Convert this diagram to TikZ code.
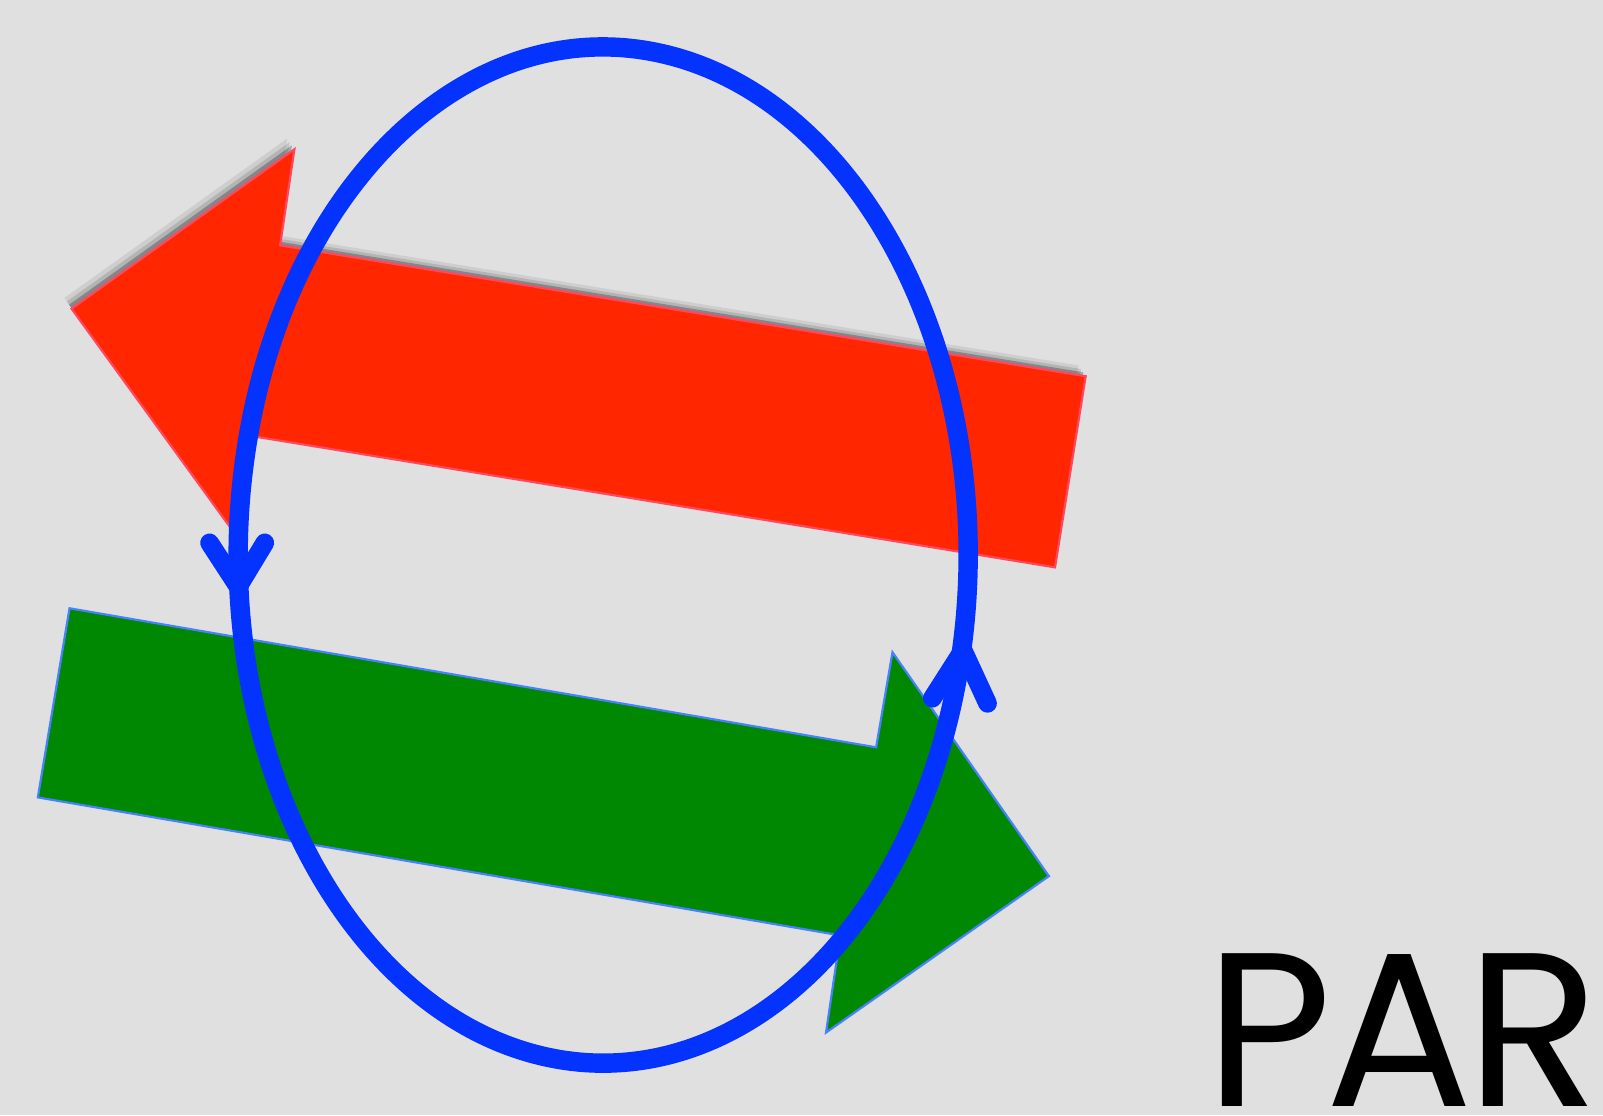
\documentclass[tikz,border=0pt]{standalone}
\usepackage{fontspec}
\setmainfont{Poppins}
\newfontfamily\parfont{Poppins}[LetterSpace=-3]
\usepackage{xcolor}
\usepackage{tikz}
\usetikzlibrary{shadows, calc}
\definecolor{bggray}{RGB}{224, 224, 224}
\definecolor{arrowred}{RGB}{255, 38, 0}
\definecolor{edgered}{RGB}{255, 72, 96}
\definecolor{arrowgreen}{RGB}{0, 136, 2}
\definecolor{edgeblue}{RGB}{70, 130, 255}
\definecolor{loopblue}{RGB}{4, 51, 255}

\begin{document}
\begin{tikzpicture}[
    x=0.01cm, y=-0.01cm,
    redarrow/.style={fill=arrowred, draw=edgered, line width=0.6pt,
        preaction={fill=black, opacity=0.08, transform canvas={shift={(-2pt,3pt)}}},
        preaction={fill=black, opacity=0.12, transform canvas={shift={(-1.3pt,2pt)}}},
        drop shadow={shadow xshift=-0.7pt, shadow yshift=1.1pt, fill=black, opacity=0.25}},
    greenarrow/.style={fill=arrowgreen, draw=edgeblue, line width=0.6pt},
    loopline/.style={draw=loopblue, line width=5.4pt, line cap=round, line join=round},
    chevron/.style={draw=loopblue, line width=5.2pt, line cap=round, line join=round},
    partext/.style={anchor=base west, inner sep=0pt, font=\parfont\fontsize{61}{61}\selectfont}
]
% Background
\fill[bggray] (0,0) rectangle (1568,1091);
\useasboundingbox (0,0) rectangle (1568,1091);

% Arrows
\path[redarrow] (70,302) -- (288,146) -- (274,240) -- (1062,368) -- (1032,555) -- (249,427) -- (226,517) -- cycle;
\path[greenarrow] (68,595) -- (857,731) -- (873,638) -- (1026,857) -- (808,1010) -- (822,915) -- (37,780) -- cycle;

% Loop
\coordinate (loopc) at (590,543);
\draw[loopline] ($(loopc)+(352.6,77.7)$) arc[start angle=9, end angle=-352, x radius=357, y radius=497];

% Arrowheads
\coordinate (ltip) at (233,574);
\coordinate (rtip) at (942,636);
\draw[chevron] (205,531) -- (ltip) -- (259,531);
\draw[chevron] (912,683) -- (rtip) -- (966,688);

% Label
\node[partext] (par) at (1178,1082) {PAR};
\end{tikzpicture}
\end{document}
